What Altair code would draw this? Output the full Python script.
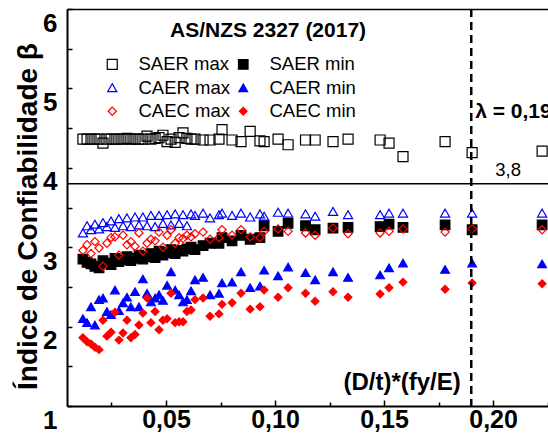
import altair as alt
import pandas as pd

FONT = "Liberation Sans"

# ---- data ----
x_vals = [0.0119, 0.0138, 0.0156, 0.0174, 0.0193, 0.0211, 0.0229, 0.0248, 0.0266, 0.0284,
          0.0303, 0.0321, 0.0339, 0.0358, 0.0376, 0.0394, 0.0413, 0.0431, 0.0450, 0.0468,
          0.0486, 0.0505, 0.0523, 0.0542, 0.0560, 0.0578, 0.0596, 0.0615, 0.0633,
          0.0670, 0.0702, 0.0743, 0.0757, 0.0803, 0.0844, 0.0886, 0.0931, 0.0950, 0.1014,
          0.1060, 0.1140, 0.1184,
          0.1266, 0.1335, 0.1482, 0.1523, 0.1587, 0.1780, 0.1904, 0.2225]

saer_max = [4.36, 4.36, 4.36, 4.36, 4.36, 4.31, 4.36, 4.36, 4.36, 4.36, 4.36, 4.37, 4.36, 4.36, 4.36,
            4.36, 4.40, 4.36, 4.37, 4.38, 4.41, 4.33, 4.36, 4.32, 4.38, 4.44, 4.37, 4.36, 4.36,
            4.35, 4.35, 4.36, 4.48, 4.35, 4.33, 4.46, 4.34, 4.33, 4.36, 4.29, 4.35, 4.35,
            4.33, 4.36, 4.35, 4.31, 4.14, 4.33, 4.19, 4.21]
saer_min = [2.85, 2.81, 2.79, 2.76, 2.74, 2.83, 2.80, 2.78, 2.86, 2.82, 2.84, 2.88, 2.83, 2.86, 2.90,
            2.85, 2.88, 2.92, 2.87, 2.95, 2.90, 2.93, 2.97, 2.92, 2.96, 2.95, 2.98, 3.00, 2.97,
            3.02, 3.05, 3.05, 3.12, 3.08, 3.15, 3.10, 3.12, 3.27, 3.20, 3.30, 3.27, 3.22,
            3.24, 3.25, 3.26, 3.29, 3.25, 3.28, 3.22, 3.28]
caer_max = [3.18, 3.27, 3.22, 3.29, 3.23, 3.31, 3.26, 3.33, 3.25, 3.36, 3.27, 3.37, 3.26, 3.38, 3.28,
            3.38, 3.27, 3.40, 3.26, 3.40, 3.30, 3.41, 3.28, 3.42, 3.30, 3.41, 3.27, 3.42, 3.40,
            3.43, 3.37, 3.41, 3.43, 3.40, 3.43, 3.38, 3.42, 3.39, 3.44, 3.43, 3.42, 3.39,
            3.45, 3.41, 3.41, 3.43, 3.43, 3.43, 3.43, 3.43]
caer_min = [2.10, 2.05, 2.25, 2.02, 2.34, 2.36, 2.19, 2.15, 2.46, 2.20, 2.30, 2.37, 2.25, 2.44, 2.25,
            2.60, 2.42, 2.31, 2.36, 2.40, 2.33, 2.52, 2.69, 2.46, 2.40, 2.31, 2.34, 2.45, 2.59,
            2.62, 2.40, 2.42, 2.55, 2.56, 2.69, 2.49, 2.51, 2.71, 2.64, 2.75, 2.68, 2.59,
            2.69, 2.62, 2.65, 2.74, 2.80, 2.72, 2.80, 2.79]
caec_max = [2.96, 3.03, 2.92, 3.07, 2.99, 2.76, 3.05, 3.12, 3.13, 2.90, 3.15, 3.03, 3.07, 3.01, 3.18,
            2.95, 3.05, 3.10, 3.08, 3.19, 3.00, 3.15, 3.22, 3.05, 3.12, 3.11, 3.15, 3.13, 3.17,
            3.19, 3.10, 3.12, 3.22, 3.15, 3.22, 3.13, 3.12, 3.20, 3.23, 3.20, 3.18, 3.15,
            3.24, 3.17, 3.18, 3.20, 3.23, 3.19, 3.23, 3.22]
caec_min = [1.86, 1.81, 1.78, 1.74, 1.71, 2.08, 1.88, 1.93, 2.18, 1.83, 1.92, 2.08, 1.86, 1.90, 2.02,
            2.17, 2.36, 2.05, 2.19, 1.96, 2.08, 2.10, 2.42, 2.05, 2.06, 2.06, 2.19, 2.21, 2.34,
            2.36, 2.13, 2.16, 2.28, 2.30, 2.42, 2.22, 2.25, 2.46, 2.37, 2.49, 2.42, 2.32,
            2.44, 2.37, 2.41, 2.49, 2.56, 2.47, 2.55, 2.54]

series_names = ["SAER max", "SAER min", "CAER max", "CAER min", "CAEC max", "CAEC min"]
series_values = [saer_max, saer_min, caer_max, caer_min, caec_max, caec_min]
shapes = ["square", "square", "triangle-up", "triangle-up", "diamond", "diamond"]
strokes = ["black", "black", "#0000FF", "#0000FF", "#FF0000", "#FF0000"]
fills = ["transparent", "black", "transparent", "#0000FF", "transparent", "#FF0000"]
sizes = [100, 60, 220, 125, 220, 125]

x_domain = [0.0046, 0.2252]
y_domain = [1, 6]
x_major = [0.05, 0.10, 0.15, 0.20]
x_minor = [0.025, 0.075, 0.125, 0.175, 0.225]
y_labels = [1, 2, 3, 4, 5, 6]
y_ticks = [1, 1.5, 2, 2.5, 3, 3.5, 4, 4.5, 5, 5.5, 6]
target_beta = 3.8
lambda_lim = 0.19

title_txt = "AS/NZS 2327 (2017)"
title_pos = (0.0968, 5.72)
xlabel_txt = "(D/t)*(fy/E)"
xlabel_pos = (0.1583, 1.29)
lambda_txt = "λ = 0,19"
lambda_pos = (0.1918, 4.70)
target_txt = "3,8"
target_pos = (0.2069, 3.97)

rows = []
for name, ys_ in zip(series_names, series_values):
    assert len(ys_) == len(x_vals), name
    for xv, yv in zip(x_vals, ys_):
        rows.append({"x": xv, "beta": yv, "serie": name})
df = pd.DataFrame(rows)
one = pd.DataFrame({"k": [0]})

xs = alt.Scale(domain=x_domain, nice=False, zero=False)
ysc = alt.Scale(domain=y_domain, nice=False, zero=False)

leg = alt.Legend(orient="none", legendX=36, legendY=46, columns=2, direction="horizontal",
                 title=None, labelFont=FONT, labelFontSize=18.5, labelColor="black",
                 labelOffset=17, columnPadding=4, rowPadding=4.5, symbolStrokeWidth=1.2,
                 padding=0)

points = alt.Chart(df).mark_point(filled=False, strokeWidth=1.2, opacity=1).encode(
    x=alt.X("x:Q", scale=xs, axis=alt.Axis(
        orient="bottom", values=x_major,
        labelExpr="replace(format(datum.value, '.2f'), '.', ',')",
        labelFont=FONT, labelFontSize=25, labelFontWeight="bold", labelColor="black",
        ticks=False, tickSize=0, labelPadding=1, domainColor="black", domainWidth=2,
        grid=False, title=None)),
    y=alt.Y("beta:Q", scale=ysc, axis=alt.Axis(
        orient="left", values=y_labels, format="d",
        labelFont=FONT, labelFontSize=26, labelFontWeight="bold", labelColor="black",
        labelOffset=14, labelPadding=10, ticks=False, tickSize=0,
        domainColor="black", domainWidth=2, grid=False,
        title="Índice de Confiabilidade β", titleFont=FONT, titleFontSize=28,
        titleFontWeight="bold", titleColor="black", titleX=-39, titleY=207,
        titleAlign="center", titleBaseline="middle")),
    shape=alt.Shape("serie:N", sort=series_names,
                    scale=alt.Scale(domain=series_names, range=shapes), legend=leg),
    color=alt.Color("serie:N", sort=series_names,
                    scale=alt.Scale(domain=series_names, range=strokes), legend=leg),
    fill=alt.Fill("serie:N", sort=series_names,
                  scale=alt.Scale(domain=series_names, range=fills), legend=leg),
    size=alt.Size("serie:N", sort=series_names,
                  scale=alt.Scale(domain=series_names, range=sizes), legend=leg),
)

hline = alt.Chart(one).mark_rule(color="black", strokeWidth=1.5).encode(
    y=alt.YDatum(target_beta, scale=ysc, axis=alt.Axis(
        orient="left", offset=-5, values=y_ticks, tickSize=5, tickWidth=1.5, tickColor="black",
        labels=False, domain=False, grid=False, title=None)))

vline = alt.Chart(one).mark_rule(color="black", strokeWidth=2.5, strokeDash=[8, 5]).encode(
    x=alt.XDatum(lambda_lim, scale=xs, axis=alt.Axis(
        orient="top", labels=False, ticks=False, domain=True, domainColor="black",
        domainWidth=1.5, grid=False, title=None)))

xlab = alt.Chart(one).mark_text(text=xlabel_txt, font=FONT, fontSize=24, fontWeight="bold",
                                color="black", align="center", baseline="middle").encode(
    x=alt.XDatum(xlabel_pos[0], scale=xs, axis=alt.Axis(
        orient="bottom", offset=-6, values=x_major, tickSize=6, tickWidth=1.5, tickColor="black",
        labels=False, domain=False, grid=False, title=None)),
    y=alt.YDatum(xlabel_pos[1], scale=ysc, axis=None))

lam = alt.Chart(one).mark_text(text=lambda_txt, font=FONT, fontSize=21, fontWeight="bold",
                               color="black", align="left", baseline="middle").encode(
    x=alt.XDatum(lambda_pos[0], scale=xs, axis=alt.Axis(
        orient="bottom", offset=-4, values=x_minor, tickSize=4, tickWidth=1.5, tickColor="black",
        labels=False, domain=False, grid=False, title=None)),
    y=alt.YDatum(lambda_pos[1], scale=ysc, axis=None))

tgt = alt.Chart(one).mark_text(text=target_txt, font=FONT, fontSize=18.5, color="black",
                               align="center", baseline="middle").encode(
    x=alt.XDatum(target_pos[0], scale=xs, axis=None),
    y=alt.YDatum(target_pos[1], scale=ysc, axis=None))

ttl = alt.Chart(one).mark_text(text=title_txt, font=FONT, fontSize=21, fontWeight="bold",
                               color="black", align="center", baseline="middle").encode(
    x=alt.XDatum(title_pos[0], scale=xs, axis=None),
    y=alt.YDatum(title_pos[1], scale=ysc, axis=None))

chart = alt.layer(points, hline, vline, xlab, lam, tgt, ttl).resolve_axis(
    x="independent", y="independent"
).properties(
    width=481, height=397,
    padding={"left": 67, "top": 9, "right": 0, "bottom": 34},
    autosize=alt.AutoSizeParams(type="none"),
    background="white",
).configure_view(stroke=None)

chart.save("out.html", embed_options={"renderer": "svg", "actions": False})
